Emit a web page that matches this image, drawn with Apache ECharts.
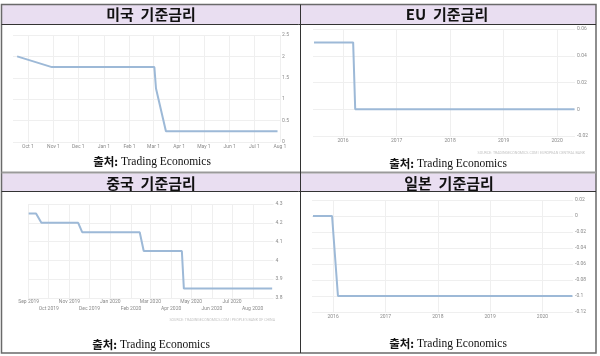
<!DOCTYPE html>
<html><head><meta charset="utf-8">
<script src="https://cdn.jsdelivr.net/npm/echarts@6/dist/echarts.min.js"></script>
<style>html,body{margin:0;padding:0;background:#fff}#c{width:600px;height:356px}</style>
</head><body><div id="c"></div>
<script>
// ---------- titles / texts ----------
const panelTitles = ['미국 기준금리', 'EU 기준금리', '중국 기준금리', '일본 기준금리'];
const sourcePrefix = '출처:';
const sourceName = ' Trading Economics';
const euSourceNote = 'SOURCE: TRADINGECONOMICS.COM | EUROPEAN CENTRAL BANK';
const cnSourceNote = "SOURCE: TRADINGECONOMICS.COM | PEOPLE'S BANK OF CHINA";

// ---------- US ----------
const usDates = ['2019-09-18', '2019-10-30', '2020-03-02', '2020-03-04', '2020-03-16', '2020-07-29'];
const usRates = [2.0, 1.75, 1.75, 1.25, 0.25, 0.25];
const usTickDates = ['2019-10-01','2019-11-01','2019-12-01','2020-01-01','2020-02-01','2020-03-01','2020-04-01','2020-05-01','2020-06-01','2020-07-01','2020-08-01'];
const usTickLabels = ['Oct 1','Nov 1','Dec 1','Jan 1','Feb 1','Mar 1','Apr 1','May 1','Jun 1','Jul 1','Aug 1'];
const usYTicks = [0, 0.5, 1, 1.5, 2, 2.5];

// ---------- EU ----------
const euDates = ['2015-06-17', '2016-03-10', '2016-03-24', '2020-04-29'];
const euRates = [0.05, 0.05, 0, 0];
const euTickDates = ['2016-01-01','2017-01-01','2018-01-01','2019-01-01','2020-01-01'];
const euTickLabels = ['2016','2017','2018','2019','2020'];
const euYTicks = [-0.02, 0, 0.02, 0.04, 0.06];

// ---------- China ----------
const cnDates = ['2019-09-01','2019-09-12','2019-09-20','2019-11-14','2019-11-20','2020-02-14','2020-02-20','2020-04-17','2020-04-20','2020-08-30'];
const cnRates = [4.25, 4.25, 4.2, 4.2, 4.15, 4.15, 4.05, 4.05, 3.85, 3.85];
const cnTickDates = ['2019-09-01','2019-10-01','2019-11-01','2019-12-01','2020-01-01','2020-02-01','2020-03-01','2020-04-01','2020-05-01','2020-06-01','2020-07-01','2020-08-01'];
const cnTickLabels = ['Sep 2019','Oct 2019','Nov 2019','Dec 2019','Jan 2020','Feb 2020','Mar 2020','Apr 2020','May 2020','Jun 2020','Jul 2020','Aug 2020'];
const cnYTicks = [3.8, 3.9, 4, 4.1, 4.2, 4.3];

// ---------- Japan ----------
const jpDates = ['2015-08-14', '2015-12-25', '2016-02-04', '2020-07-28'];
const jpRates = [0, 0, -0.1, -0.1];
const jpTickDates = ['2016-01-01','2017-01-01','2018-01-01','2019-01-01','2020-01-01'];
const jpTickLabels = ['2016','2017','2018','2019','2020'];
const jpYTicks = [-0.12, -0.1, -0.08, -0.06, -0.04, -0.02, 0, 0.02];

// ---------- helpers ----------
const DAY = 86400000;
function ts(s) { const p = s.split('-').map(Number); return Math.round(Date.UTC(p[0], p[1] - 1, p[2]) / DAY); }
function pairs(d, v) { return d.map((x, i) => [ts(x), v[i]]); }

const LINE = '#9db9d7';
const GRIDC = '#efefef';
const LABC = '#8a8a8a';

const panels = [
  { dates: usDates, rates: usRates, ticks: usTickDates, labels: usTickLabels, y: usYTicks,
    grid: { left: 13, top: 35, width: 267, height: 107 }, min: '2019-09-13', max: '2020-08-01', stagger: false },
  { dates: euDates, rates: euRates, ticks: euTickDates, labels: euTickLabels, y: euYTicks,
    grid: { left: 313, top: 29, width: 262, height: 107 }, min: '2015-06-10', max: '2020-05-02', stagger: false },
  { dates: cnDates, rates: cnRates, ticks: cnTickDates, labels: cnTickLabels, y: cnYTicks,
    grid: { left: 28, top: 204, width: 245.5, height: 94 }, min: '2019-08-31', max: '2020-09-01', stagger: true },
  { dates: jpDates, rates: jpRates, ticks: jpTickDates, labels: jpTickLabels, y: jpYTicks,
    grid: { left: 312, top: 200, width: 261, height: 112 }, min: '2015-08-07', max: '2020-08-01', stagger: false }
];

function labelFmt(tickTs, labels) {
  return function (val) {
    const k = tickTs.indexOf(Math.round(val));
    return k < 0 ? '' : labels[k];
  };
}

const grids = [], xAxes = [], yAxes = [], series = [], extraX = [];
panels.forEach((p, i) => {
  grids.push(Object.assign({ containLabel: false }, p.grid));
  const tickTs = p.ticks.map(ts);
  const rowA = p.stagger ? tickTs.filter((t, k) => k % 2 === 0) : tickTs;
  xAxes.push({
    type: 'value', gridIndex: i, position: 'bottom', min: ts(p.min), max: ts(p.max), scale: true,
    axisLine: { show: false }, axisTick: { show: false, customValues: tickTs },
    splitLine: { show: true, lineStyle: { color: GRIDC, width: 1 } },
    axisLabel: {
      customValues: rowA, fontSize: 5, color: LABC, margin: p.stagger ? 1.5 : 2,
      fontFamily: 'Roboto', showMinLabel: true, showMaxLabel: true,
      formatter: labelFmt(tickTs, p.labels)
    }
  });
  if (p.stagger) {
    const rowB = tickTs.filter((t, k) => k % 2 === 1);
    extraX.push({
      type: 'value', gridIndex: i, position: 'bottom', offset: 0, min: ts(p.min), max: ts(p.max), scale: true,
      axisLine: { show: false }, axisTick: { show: false, customValues: rowB },
      splitLine: { show: false },
      axisLabel: {
        customValues: rowB, fontSize: 5, color: LABC, margin: 8.5,
        fontFamily: 'Roboto', showMinLabel: true, showMaxLabel: true,
        formatter: labelFmt(tickTs, p.labels)
      }
    });
  }
  const yt = p.y;
  yAxes.push({
    type: 'value', gridIndex: i, position: 'right',
    min: yt[0], max: yt[yt.length - 1], interval: +(yt[1] - yt[0]).toFixed(4),
    axisLine: { show: false }, axisTick: { show: false },
    splitLine: { show: true, lineStyle: { color: GRIDC, width: 1 } },
    axisLabel: { fontSize: 5, color: LABC, margin: 2, fontFamily: 'Roboto' }
  });
  series.push({
    type: 'line', xAxisIndex: i, yAxisIndex: i, data: pairs(p.dates, p.rates),
    showSymbol: false, symbol: 'none', animation: false,
    lineStyle: { color: LINE, width: 2 }
  });
});
const allX = xAxes.concat(extraX);

// ---------- table graphics ----------
const LAV = '#e9def1';
const graphic = [
  { type: 'rect', shape: { x: 1.5, y: 4.5, width: 594.5, height: 348.5 }, style: { fill: 'transparent', stroke: '#6a6a6a', lineWidth: 1.5 }, z: 5 },
  { type: 'rect', shape: { x: 2, y: 5, width: 594, height: 19 }, style: { fill: LAV }, z: -9 },
  { type: 'rect', shape: { x: 2, y: 173.5, width: 594, height: 17.5 }, style: { fill: LAV }, z: -9 },
  { type: 'line', shape: { x1: 1.5, y1: 24.5, x2: 596, y2: 24.5 }, style: { stroke: '#333', lineWidth: 1 }, z: 5 },
  { type: 'line', shape: { x1: 1.5, y1: 172.5, x2: 596, y2: 172.5 }, style: { stroke: '#9a9a9a', lineWidth: 2 }, z: 5 },
  { type: 'line', shape: { x1: 1.5, y1: 191.5, x2: 596, y2: 191.5 }, style: { stroke: '#333', lineWidth: 1 }, z: 5 },
  { type: 'line', shape: { x1: 300.5, y1: 4.5, x2: 300.5, y2: 353 }, style: { stroke: '#333', lineWidth: 1 }, z: 5 }
];
const titlePos = [[151, 14.5], [447, 14.5], [151, 183], [449, 183]];
panelTitles.forEach((t, i) => {
  graphic.push({ type: 'text', x: titlePos[i][0], y: titlePos[i][1], z: 6,
    style: { text: t.replace(' ', '  '), fill: '#111', font: 'bold 15px "Noto Sans CJK KR", sans-serif', align: 'center', verticalAlign: 'middle' } });
});
const srcPos = [[152, 162], [448, 164], [151, 345], [448, 344]];
srcPos.forEach(pt => {
  graphic.push({ type: 'text', x: pt[0], y: pt[1], z: 6,
    style: { text: '{b|' + sourcePrefix + '}{n|' + sourceName + '}', align: 'center', verticalAlign: 'middle',
      rich: { b: { fontSize: 11.5, fontWeight: 'bold', fontFamily: '"Noto Sans CJK KR"', fill: '#111' },
              n: { fontSize: 11.5, fontFamily: '"Liberation Serif", serif', fill: '#111' } } } });
});
graphic.push({ type: 'text', x: 585, y: 153, z: 6, style: { text: euSourceNote, fill: '#c4c4c4', font: '3.6px Roboto', align: 'right', verticalAlign: 'middle' } });
graphic.push({ type: 'text', x: 275, y: 320, z: 6, style: { text: cnSourceNote, fill: '#c4c4c4', font: '3.6px Roboto', align: 'right', verticalAlign: 'middle' } });

const chart = echarts.init(document.getElementById('c'), null, { renderer: 'canvas' });
chart.setOption({ animation: false, backgroundColor: '#fff', grid: grids, xAxis: allX, yAxis: yAxes, series: series, graphic: graphic });
</script></body></html>
